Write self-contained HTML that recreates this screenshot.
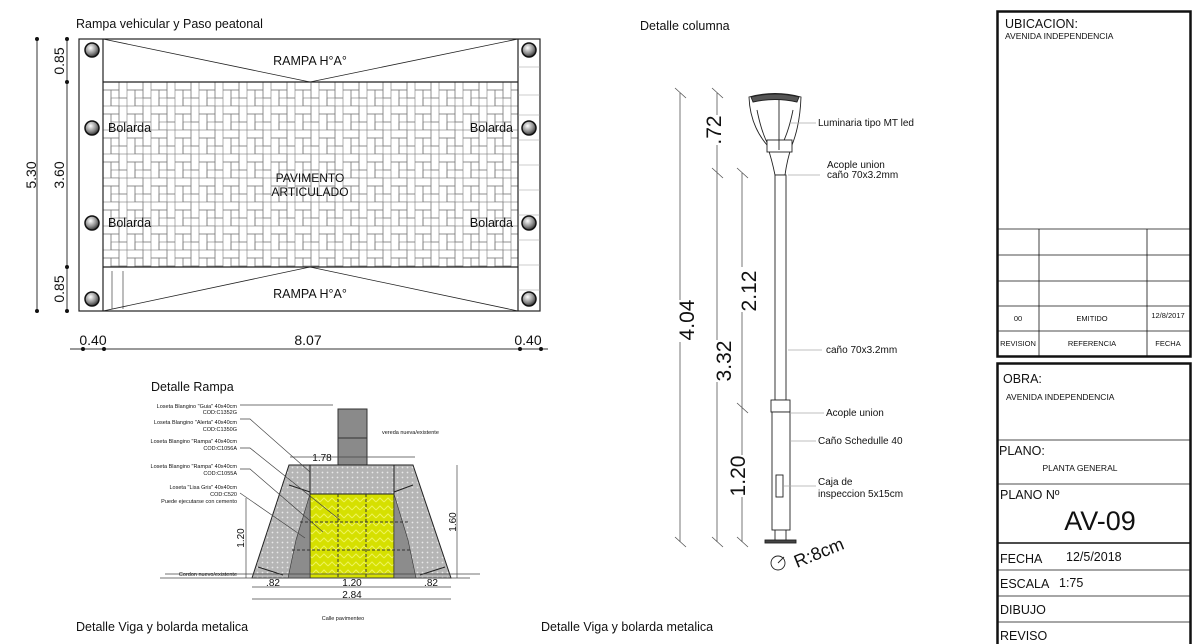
<!DOCTYPE html>
<html><head><meta charset="utf-8"><style>
html,body{margin:0;padding:0;background:#fff}
svg{display:block}
text{font-family:"Liberation Sans",sans-serif;fill:#111}
</style></head><body>
<svg width="1200" height="644" viewBox="0 0 1200 644" xmlns="http://www.w3.org/2000/svg">
<defs>
<pattern id="hb" x="103" y="82" width="24" height="24" patternUnits="userSpaceOnUse">
<rect width="24" height="24" fill="#fff"/>
<g fill="none" stroke="#7a7a7a" stroke-width="0.6">
<rect x="0" y="0" width="16" height="8"/>
<rect x="16" y="0" width="8" height="16"/>
<rect x="0" y="8" width="8" height="16"/>
<rect x="8" y="8" width="8" height="16"/>
<rect x="8" y="16" width="16" height="8"/>
</g>
</pattern>
<radialGradient id="bol" cx="0.4" cy="0.35" r="0.7">
<stop offset="0" stop-color="#fff"/><stop offset="0.6" stop-color="#888"/><stop offset="1" stop-color="#222"/>
</radialGradient>
<pattern id="dots" width="5" height="5" patternUnits="userSpaceOnUse">
<rect width="5" height="5" fill="#b5b5b5"/><circle cx="2.5" cy="2.5" r="0.9" fill="#e8e8e8"/>
</pattern>
<pattern id="chev" width="8" height="8" patternUnits="userSpaceOnUse">
<rect width="8" height="8" fill="#d6e000"/><path d="M0 6 L4 2 L8 6" stroke="#eef35a" stroke-width="1" fill="none"/>
</pattern>
</defs>

<!-- Plan view -->
<text x="76" y="28" font-size="12.5">Rampa vehicular y Paso peatonal</text>
<rect x="103" y="82" width="415" height="185" fill="url(#hb)"/>
<g stroke="#222" fill="none" stroke-width="1.2">
<rect x="79" y="39" width="461" height="272"/>
<line x1="103" y1="39" x2="103" y2="311"/>
<line x1="518" y1="39" x2="518" y2="311"/>
<line x1="103" y1="82" x2="518" y2="82"/>
<line x1="103" y1="267" x2="518" y2="267"/>
<polyline points="103,39 310,82 518,39" stroke-width="0.8"/>
<polyline points="103,311 310,267 518,311" stroke-width="0.8"/>
<line x1="112" y1="271" x2="112" y2="309" stroke-width="0.6"/>
<line x1="123" y1="271" x2="123" y2="309" stroke-width="0.6"/>
</g>
<g stroke="#999" stroke-width="0.6">
<line x1="518" y1="67" x2="540" y2="67"/><line x1="518" y1="95" x2="540" y2="95"/>
<line x1="518" y1="115" x2="540" y2="115"/><line x1="518" y1="140" x2="540" y2="140"/>
<line x1="518" y1="165" x2="540" y2="165"/><line x1="518" y1="190" x2="540" y2="190"/>
<line x1="518" y1="215" x2="540" y2="215"/><line x1="518" y1="240" x2="540" y2="240"/>
<line x1="518" y1="265" x2="540" y2="265"/><line x1="518" y1="290" x2="540" y2="290"/>
</g>
<g fill="url(#bol)" stroke="#111" stroke-width="1.5">
<circle cx="92" cy="50" r="7"/><circle cx="92" cy="128" r="7"/><circle cx="92" cy="223" r="7"/><circle cx="92" cy="299" r="7"/>
<circle cx="529" cy="50" r="7"/><circle cx="529" cy="128" r="7"/><circle cx="529" cy="223" r="7"/><circle cx="529" cy="299" r="7"/>
</g>
<g font-size="12.5">
<text x="310" y="65" text-anchor="middle">RAMPA H°A°</text>
<text x="310" y="298" text-anchor="middle">RAMPA H°A°</text>
<text x="108" y="132" fill="#111">Bolarda</text><text x="108" y="227">Bolarda</text>
<text x="513" y="132" text-anchor="end">Bolarda</text><text x="513" y="227" text-anchor="end">Bolarda</text>
<text x="310" y="182" text-anchor="middle" font-size="12">PAVIMENTO</text>
<text x="310" y="196" text-anchor="middle" font-size="12">ARTICULADO</text>
</g>
<!-- dims plan -->
<g stroke="#333" stroke-width="1">
<line x1="37" y1="39" x2="37" y2="311"/><line x1="67" y1="39" x2="67" y2="311"/>
<line x1="70" y1="349" x2="548" y2="349"/>
</g>
<g fill="#111">
<circle cx="37" cy="39" r="2"/><circle cx="37" cy="311" r="2"/>
<circle cx="67" cy="39" r="2"/><circle cx="67" cy="82" r="2"/><circle cx="67" cy="267" r="2"/><circle cx="67" cy="311" r="2"/>
<circle cx="83" cy="349" r="2"/><circle cx="104" cy="349" r="2"/><circle cx="520" cy="349" r="2"/><circle cx="541" cy="349" r="2"/>
</g>
<g font-size="14">
<text transform="translate(36,175) rotate(-90)" text-anchor="middle">5.30</text>
<text transform="translate(64,61) rotate(-90)" text-anchor="middle">0.85</text>
<text transform="translate(64,175) rotate(-90)" text-anchor="middle">3.60</text>
<text transform="translate(64,289) rotate(-90)" text-anchor="middle">0.85</text>
<text x="93" y="345" text-anchor="middle">0.40</text>
<text x="308" y="345" text-anchor="middle">8.07</text>
<text x="528" y="345" text-anchor="middle">0.40</text>
</g>

<!-- Detalle Rampa -->
<text x="151" y="391" font-size="12.5">Detalle Rampa</text>
<rect x="338" y="409" width="29" height="56" fill="#8a8a8a" stroke="#333"/>
<line x1="338" y1="438" x2="367" y2="438" stroke="#333"/>
<polygon points="289,465 413,465 451,578 252,578" fill="url(#dots)" stroke="#222" stroke-width="1"/>
<polygon points="310,494 394,494 394,578 310,578" fill="url(#chev)" stroke="#222"/>
<polygon points="310,494 310,578 288,578 296,540" fill="#8c8c8c" stroke="#333" stroke-width="0.6"/>
<polygon points="394,494 394,578 416,578 408,540" fill="#8c8c8c" stroke="#333" stroke-width="0.6"/>
<line x1="310" y1="465" x2="310" y2="494" stroke="#222"/><line x1="394" y1="465" x2="394" y2="494" stroke="#222"/>
<line x1="338" y1="494" x2="338" y2="578" stroke="#333" stroke-dasharray="3,2"/>
<line x1="366" y1="494" x2="366" y2="578" stroke="#333" stroke-dasharray="3,2"/>
<line x1="300" y1="522" x2="410" y2="522" stroke="#333" stroke-dasharray="3,2"/>
<line x1="292" y1="550" x2="412" y2="550" stroke="#333" stroke-dasharray="3,2"/>
<line x1="258" y1="567" x2="283" y2="575" stroke="#222"/><line x1="445" y1="567" x2="420" y2="575" stroke="#222"/>
<line x1="289" y1="485" x2="310" y2="492" stroke="#222"/><line x1="413" y1="485" x2="394" y2="492" stroke="#222"/>
<g stroke="#444" stroke-width="0.7" fill="none">
<line x1="165" y1="574" x2="480" y2="574"/>
<line x1="160" y1="578" x2="470" y2="578"/>
<line x1="252" y1="587" x2="451" y2="587"/>
<line x1="252" y1="599" x2="451" y2="599"/>
<line x1="290" y1="457" x2="415" y2="457"/>
<line x1="246" y1="498" x2="246" y2="578"/>
<line x1="457" y1="465" x2="457" y2="578"/>
<polyline points="240,405 333,405"/>
<polyline points="240,419 250,419 310,472"/>
<polyline points="240,448 250,448 340,520"/>
<polyline points="240,469 250,469 323,532"/>
<polyline points="240,493 305,538"/>
</g>
<g font-size="5.5" text-anchor="end">
<text x="237" y="408">Loseta Blangino "Guia" 40x40cm</text><text x="237" y="414">COD:C1352G</text>
<text x="237" y="424">Loseta Blangino "Alerta" 40x40cm</text><text x="237" y="431">COD:C1350G</text>
<text x="237" y="443">Loseta Blangino "Rampa" 40x40cm</text><text x="237" y="450">COD:C1056A</text>
<text x="237" y="468">Loseta Blangino "Rampa" 40x40cm</text><text x="237" y="475">COD:C1055A</text>
<text x="237" y="489">Loseta "Lisa Gris" 40x40cm</text><text x="237" y="496">COD:C520</text>
<text x="237" y="503">Puede ejecutarse con cemento</text>
<text x="237" y="576">Cordon nuevo/existente</text>
</g>
<text x="382" y="434" font-size="5.5">vereda nueva/existente</text>
<text x="343" y="620" font-size="5.5" text-anchor="middle">Calle pavimenteo</text>
<g font-size="10">
<text x="322" y="461" text-anchor="middle">1.78</text>
<text x="273" y="586" text-anchor="middle">.82</text>
<text x="352" y="586" text-anchor="middle">1.20</text>
<text x="431" y="586" text-anchor="middle">.82</text>
<text x="352" y="598" text-anchor="middle">2.84</text>
<text transform="translate(244,538) rotate(-90)" text-anchor="middle">1.20</text>
<text transform="translate(456,522) rotate(-90)" text-anchor="middle">1.60</text>
</g>

<text x="76" y="631" font-size="12.5">Detalle Viga y bolarda metalica</text>
<text x="541" y="631" font-size="12.5">Detalle Viga y bolarda metalica</text>

<!-- Detalle columna -->
<text x="640" y="30" font-size="12.5">Detalle columna</text>
<g stroke="#555" stroke-width="0.8">
<line x1="680" y1="93" x2="680" y2="542"/>
<line x1="717" y1="93" x2="717" y2="542"/>
<line x1="742" y1="173" x2="742" y2="542"/>
<line x1="675" y1="88" x2="686" y2="98"/><line x1="675" y1="537" x2="686" y2="547"/>
<line x1="712" y1="88" x2="723" y2="98"/><line x1="712" y1="168" x2="723" y2="178"/><line x1="712" y1="537" x2="723" y2="547"/>
<line x1="737" y1="168" x2="748" y2="178"/><line x1="737" y1="403" x2="748" y2="413"/><line x1="737" y1="537" x2="748" y2="547"/>
</g>
<rect x="672" y="300" width="16" height="42" fill="#fff"/>
<rect x="708" y="340" width="16" height="42" fill="#fff"/>
<rect x="733" y="267" width="16" height="45" fill="#fff"/>
<rect x="733" y="455" width="16" height="42" fill="#fff"/>
<rect x="705" y="115" width="16" height="30" fill="#fff"/>
<g font-size="21">
<text transform="translate(694,320) rotate(-90)" text-anchor="middle">4.04</text>
<text transform="translate(721,130) rotate(-90)" text-anchor="middle">.72</text>
<text transform="translate(731,361) rotate(-90)" text-anchor="middle">3.32</text>
<text transform="translate(756,291) rotate(-90)" text-anchor="middle">2.12</text>
<text transform="translate(745,476) rotate(-90)" text-anchor="middle">1.20</text>
</g>
<!-- lamp -->
<g stroke="#222" stroke-width="0.9" fill="#fff">
<path d="M749,97 Q775,90 801,97 Q800,125 792,145 Q787,160 785,175 L775,175 Q772,160 767,145 Q750,125 749,97 Z"/>
<path d="M751,97 Q775,91 799,97 L797,102 Q775,97 753,102 Z" fill="#555"/>
<path d="M757,110 Q762,135 770,148" fill="none"/><path d="M793,110 Q788,135 780,148" fill="none"/>
<rect x="767" y="140" width="25" height="12" fill="#fff"/>
<line x1="779" y1="100" x2="779" y2="150"/>
<rect x="775" y="175" width="11" height="225"/>
<rect x="771" y="400" width="19" height="12"/>
<rect x="772" y="412" width="18" height="118"/>
<rect x="776" y="475" width="7" height="22"/>
<line x1="775" y1="530" x2="775" y2="540"/><line x1="786" y1="530" x2="786" y2="540"/>
<rect x="765" y="540" width="31" height="3" fill="#444"/>
<circle cx="778" cy="563" r="7"/>
<line x1="778" y1="563" x2="784" y2="557"/>
</g>
<text transform="translate(797,568) rotate(-22)" font-size="18">R:8cm</text>
<g stroke="#aaa" stroke-width="0.7">
<line x1="790" y1="123" x2="816" y2="123"/>
<line x1="788" y1="175" x2="820" y2="175"/>
<line x1="788" y1="350" x2="822" y2="350"/>
<line x1="790" y1="413" x2="824" y2="413"/>
<line x1="790" y1="441" x2="816" y2="441"/>
<line x1="784" y1="486" x2="816" y2="486"/>
</g>
<g font-size="10">
<text x="818" y="126">Luminaria tipo MT led</text>
<text x="827" y="168">Acople union</text><text x="827" y="178">caño 70x3.2mm</text>
<text x="826" y="353">caño 70x3.2mm</text>
<text x="826" y="416">Acople union</text>
<text x="818" y="444">Caño Schedulle 40</text>
<text x="818" y="485">Caja de</text><text x="818" y="497">inspeccion 5x15cm</text>
</g>

<!-- Title block -->
<g stroke="#111" fill="none">
<rect x="997.5" y="11.5" width="193" height="345" stroke-width="2.5"/>
<g stroke-width="0.8">
<line x1="998" y1="229" x2="1190" y2="229"/><line x1="998" y1="255" x2="1190" y2="255"/>
<line x1="998" y1="281" x2="1190" y2="281"/><line x1="998" y1="306" x2="1190" y2="306"/>
<line x1="998" y1="331" x2="1190" y2="331"/>
<line x1="1039" y1="229" x2="1039" y2="356"/><line x1="1147" y1="229" x2="1147" y2="356"/>
</g>
<rect x="997.5" y="363.5" width="193" height="282" stroke-width="2.5"/>
<g stroke-width="0.8">
<line x1="998" y1="440" x2="1190" y2="440"/><line x1="998" y1="484" x2="1190" y2="484"/>
<line x1="998" y1="570" x2="1190" y2="570"/><line x1="998" y1="596" x2="1190" y2="596"/>
<line x1="998" y1="622" x2="1190" y2="622"/>
</g>
<line x1="998" y1="543" x2="1190" y2="543" stroke-width="1.5"/>
</g>
<text x="1005" y="28" font-size="12.5">UBICACION:</text>
<text x="1005" y="39" font-size="8.5" fill="#666">AVENIDA INDEPENDENCIA</text>
<g font-size="7.5" text-anchor="middle">
<text x="1018" y="321">00</text><text x="1092" y="321">EMITIDO</text><text x="1168" y="318">12/8/2017</text>
<text x="1018" y="346">REVISION</text><text x="1092" y="346">REFERENCIA</text><text x="1168" y="346">FECHA</text>
</g>
<text x="1003" y="383" font-size="12.5">OBRA:</text>
<text x="1006" y="400" font-size="8.5" fill="#666">AVENIDA INDEPENDENCIA</text>
<text x="999" y="455" font-size="12.5">PLANO:</text>
<text x="1080" y="471" font-size="8.5" fill="#666" text-anchor="middle">PLANTA GENERAL</text>
<text x="1000" y="499" font-size="12.5">PLANO Nº</text>
<text x="1100" y="530" font-size="27" text-anchor="middle">AV-09</text>
<text x="1000" y="563" font-size="12.5">FECHA</text><text x="1066" y="561" font-size="12.5">12/5/2018</text>
<text x="1000" y="588" font-size="12.5">ESCALA</text><text x="1059" y="587" font-size="12.5">1:75</text>
<text x="1000" y="614" font-size="12.5">DIBUJO</text>
<text x="1000" y="640" font-size="12.5">REVISO</text>
</svg>
</body></html>
